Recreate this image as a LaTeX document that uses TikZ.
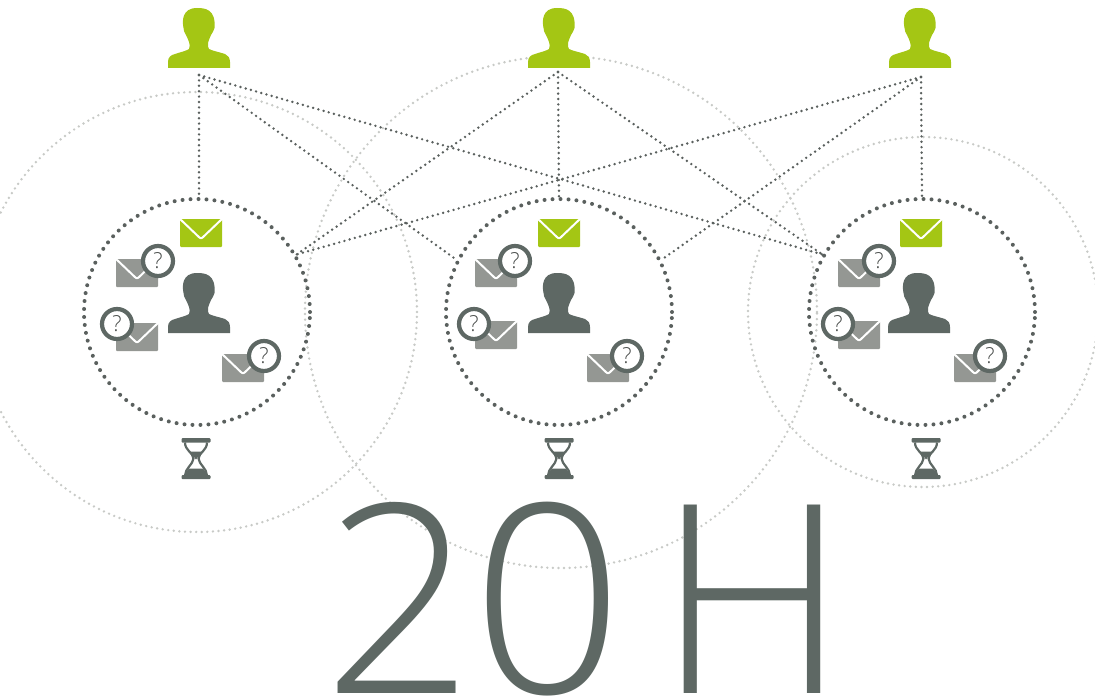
\documentclass[tikz,border=0pt]{standalone}
\usepackage{fontspec}
\newfontfamily\thinfont{Open Sans Light}
\usetikzlibrary{positioning}
\definecolor{slate}{RGB}{94,104,100}
\definecolor{leaf}{RGB}{164,198,20}
\definecolor{stone}{RGB}{148,151,147}
\definecolor{mist}{RGB}{200,202,199}
\definecolor{ink}{RGB}{90,96,94}
\tikzset{
  halo/.style={circle,draw=mist,line width=2.7pt,line cap=round,dash pattern=on 0pt off 5.6pt,inner sep=0pt},
  ring/.style={circle,draw=ink,line width=4pt,line cap=round,dash pattern=on 0pt off 8pt,inner sep=0pt,minimum size=226pt},
  link/.style={draw=ink,line width=2.7pt,line cap=round,dash pattern=on 0pt off 5.4pt},
  bigtext/.style={text=slate,inner sep=0pt,anchor=base,font=\thinfont\fontsize{264}{264}\selectfont},
  personpic/.pic={
    \fill (-31,0) -- (-31,-6) .. controls (-31,-11) and (-28,-13) .. (-24,-14)
      .. controls (-18,-16) and (-13,-17) .. (-10,-19) .. controls (-9,-21) and (-9,-24) .. (-10,-26)
      .. controls (-11,-29) and (-12,-31) .. (-13,-33) .. controls (-14,-36) and (-16,-37) .. (-15.5,-40)
      .. controls (-17,-47) and (-17,-60) .. (-2,-60)
      .. controls (6,-60) and (17,-59) .. (15.5,-40)
      .. controls (15.5,-37) and (13,-36) .. (12,-33) .. controls (11,-30) and (9,-27) .. (9,-25)
      .. controls (9,-22) and (9,-20) .. (10,-19) .. controls (14,-17) and (20,-16) .. (26,-14)
      .. controls (29,-13) and (31,-10) .. (31,-6) -- (31,0) -- cycle;
  },
  mailpic/.pic={
    \fill[rounded corners=1pt] (0,0) rectangle (42,28);
    \draw[white,line width=2pt,line join=round,rounded corners=2pt] (-0.5,-0.5) -- (21,20) -- (42.5,-0.5);
  },
  querypic/.pic={
    \node[circle,draw=slate,fill=white,line width=4.2pt,minimum size=30pt,inner sep=0pt,text=ink!75!black,font=\thinfont\fontsize{22}{22}\selectfont] (-q) {?};
  },
  hourglasspic/.pic={
    \fill[slate,rounded corners=1pt] (-14.5,-20.5) rectangle (14.5,-16);
    \fill[slate,rounded corners=1pt] (-14.5,16.5) rectangle (14.5,20.5);
    \draw[slate,line width=2.2pt] (-11,-16) .. controls (-11,-8) and (-3,-6) .. (-2.5,0)
      .. controls (-3,6) and (-11,10) .. (-11,17);
    \draw[slate,line width=2.2pt] (11,-16) .. controls (11,-8) and (3,-6) .. (2.5,0)
      .. controls (3,6) and (11,10) .. (11,17);
    \fill[slate] (-6,-7) -- (6,-7) -- (0,1) -- cycle;
    \fill[slate] (-12,17) -- (-7,10) -- (7,10) -- (12,17) -- cycle;
  }
}
\begin{document}
\begin{tikzpicture}[x=1pt,y=-1pt]
\clip (0,0) rectangle (1095,698);

\node[halo,minimum size=440pt] (HA) at (197,312) {};
\node[halo,minimum size=512pt] (HB) at (561,312) {};
\node[halo,minimum size=350pt] (HC) at (923,312) {};

\node[ring] (CA) at (197,312) {};
\node[ring] (CB) at (559,312) {};
\node[ring] (CC) at (922,312) {};

\coordinate (UA) at (199,75);
\coordinate (UB) at (558,72);
\coordinate (UC) at (921,77);

\draw[link] (UA) -- (CA.89);
\draw[link] (UA) -- (CB.153);
\draw[link] (UA) -- (CC.150);
\draw[link] (UB) -- (CA.30);
\draw[link] (UB) -- (CB.north);
\draw[link] (UB) -- (CC.150);
\draw[link] (UC) -- (CA.30);
\draw[link] (UC) -- (CB.27);
\draw[link] (UC) -- (CC.north);

\pic[leaf] at (199,68) {personpic};
\pic[leaf] at (559,68) {personpic};
\pic[leaf] at (920,68) {personpic};

\pic[slate] at (199,333) {personpic};
\pic[leaf] at (180,219) {mailpic};
\pic[stone] at (116,259) {mailpic};
\pic[stone] at (116,323) {mailpic};
\pic[stone] at (222,354) {mailpic};
\pic (QA1) at (158,261) {querypic};
\pic (QA2) at (117,324) {querypic};
\pic (QA3) at (264,356) {querypic};
\pic at (196,458.5) {hourglasspic};

\pic[slate] at (559,333) {personpic};
\pic[leaf] at (538,219) {mailpic};
\pic[stone] at (475,259) {mailpic};
\pic[stone] at (475,321) {mailpic};
\pic[stone] at (587,354) {mailpic};
\pic (QB1) at (515,261) {querypic};
\pic (QB2) at (474,324) {querypic};
\pic (QB3) at (627,356) {querypic};
\pic at (559,458.5) {hourglasspic};

\pic[slate] at (919,333) {personpic};
\pic[leaf] at (900,219) {mailpic};
\pic[stone] at (838,259) {mailpic};
\pic[stone] at (838,321) {mailpic};
\pic[stone] at (954,354) {mailpic};
\pic (QC1) at (879,261) {querypic};
\pic (QC2) at (838,324) {querypic};
\pic (QC3) at (990,356) {querypic};
\pic at (926,458.5) {hourglasspic};

\node[bigtext] (TA) at (399,693) {2};
\node[bigtext] (TB) at (548,693) {0};
\node[bigtext] (TC) at (752,693) {H};
\end{tikzpicture}
\end{document}
